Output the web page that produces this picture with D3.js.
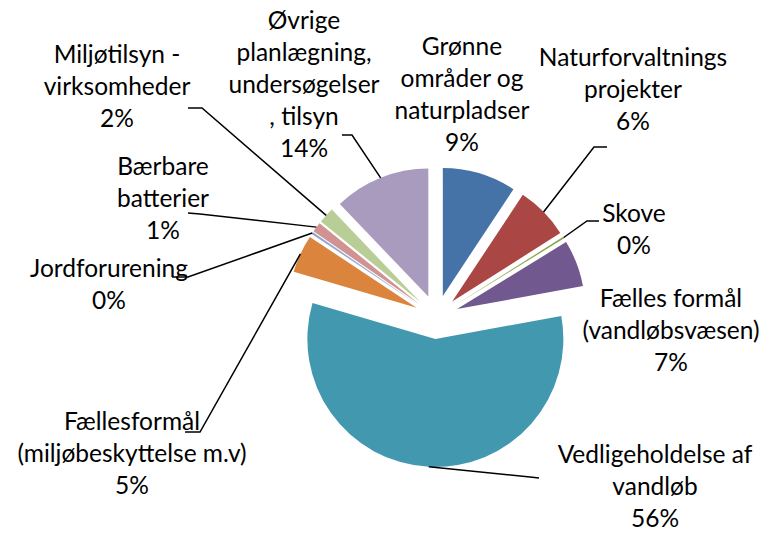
<!DOCTYPE html>
<html>
<head>
<meta charset="utf-8">
<script src="https://cdn.jsdelivr.net/npm/d3@7"></script>
<style>
  body { margin: 0; background: #fff; }
  text { font-family: Lato, "Noto Sans", sans-serif; font-size: 24.5px; fill: #000; }
</style>
</head>
<body>
<svg id="chart" width="770" height="533"></svg>
<script>
// categories (each label split in the lines shown on the chart)
const categories = [
  ["Grønne", "områder og", "naturpladser"],
  ["Naturforvaltnings", "projekter"],
  ["Skove"],
  ["Fælles formål", "(vandløbsvæsen)"],
  ["Vedligeholdelse af", "vandløb"],
  ["Fællesformål", "(miljøbeskyttelse m.v)"],
  ["Jordforurening"],
  ["Bærbare", "batterier"],
  ["Miljøtilsyn -", "virksomheder"],
  ["Øvrige", "planlægning,", "undersøgelser", ", tilsyn"]
];
// slice shares (percent)
const shares = [9.3, 6.7, 0.22, 5.9, 57.4, 4.8, 0.28, 1.25, 2.0, 12.15];
// percent labels as printed
const pctLabels = ["9%", "6%", "0%", "7%", "56%", "5%", "0%", "1%", "2%", "14%"];

const colors = ["#4572A7", "#AA4643", "#89A54E", "#71588F", "#4198AF",
                "#DB843D", "#93A9CF", "#D19392", "#B9CD96", "#A99BBD"];

// label layout: centre x, first baseline, and leader elbow / end (null = no leader)
const layout = [
  {x: 462, y: 55,  leader: null},
  {x: 633, y: 66,  leader: [[594, 147], [607, 147]]},
  {x: 634, y: 222, leader: [[587, 221], [599, 221]]},
  {x: 671, y: 307, leader: null},
  {x: 655, y: 463, leader: [[530, 477], [539, 478]]},
  {x: 132, y: 430, leader: [[200, 432], [185, 432]]},
  {x: 109, y: 277, leader: [[188, 277], [172, 277]]},
  {x: 163, y: 175, leader: [[200, 214], [188, 213]]},
  {x: 117, y: 63,  leader: [[202, 108], [188, 108]]},
  {x: 304, y: 29,  leader: [[352, 135], [342, 135]]}
];

const cx = 436.5, cy = 317, radius = 128, explode = 22, lineH = 32;

const svg = d3.select("#chart");

const pie = d3.pie().sort(null).value(d => d)(shares);
const arc = d3.arc().innerRadius(0).outerRadius(radius);

const mid = d => (d.startAngle + d.endAngle) / 2;
const offset = (d, r) => [Math.sin(mid(d)) * r, -Math.cos(mid(d)) * r];

const g = svg.append("g").attr("transform", `translate(${cx},${cy})`);

g.selectAll("path.slice")
  .data(pie)
  .join("path")
    .attr("class", "slice")
    .attr("d", arc)
    .attr("fill", (d, i) => colors[i])
    .attr("transform", d => `translate(${offset(d, explode)})`);

// leader lines: from outer edge of exploded slice to the label
const line = d3.line();
svg.append("g").selectAll("path")
  .data(pie.filter((d, i) => layout[i].leader))
  .join("path")
    .attr("fill", "none")
    .attr("stroke", "#000")
    .attr("stroke-width", 1.5)
    .attr("d", d => {
      const p = offset(d, radius + explode);
      return line([[cx + p[0], cy + p[1]], ...layout[d.index].leader]);
    });

// labels
const labels = svg.append("g").selectAll("text")
  .data(categories)
  .join("text")
    .attr("text-anchor", "middle")
    .attr("x", (d, i) => layout[i].x)
    .attr("y", (d, i) => layout[i].y);

labels.selectAll("tspan")
  .data((d, i) => d.concat([pctLabels[i]]).map(t => ({t, x: layout[i].x})))
  .join("tspan")
    .attr("x", d => d.x)
    .attr("dy", (d, j) => j ? lineH : 0)
    .text(d => d.t);
</script>
</body>
</html>
